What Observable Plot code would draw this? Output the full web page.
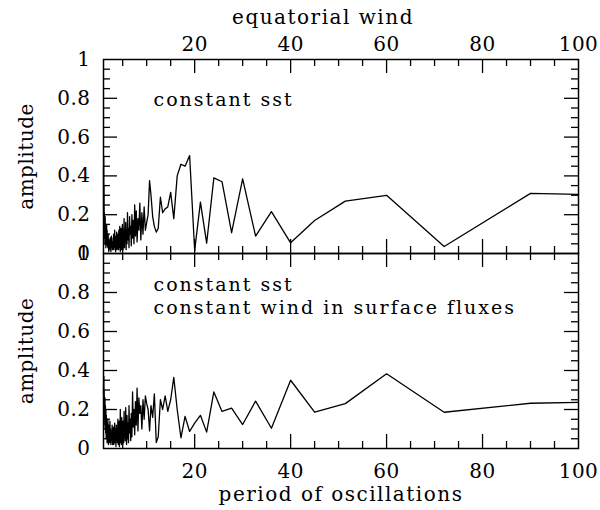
<!DOCTYPE html>
<html>
<head>
<meta charset="utf-8">
<script src="https://cdn.jsdelivr.net/npm/d3@7"></script>
<script src="https://cdn.jsdelivr.net/npm/@observablehq/plot@0.6"></script>
<style>
  html, body { margin: 0; padding: 0; background: white; }
  #chart { width: 600px; height: 510px; }
  #chart svg { display: block; overflow: visible; }
</style>
</head>
<body>
<div id="chart"></div>
<script>
// ---- data ----
const periods = [
  100, 90, 72, 60, 51.4, 45, 40, 36, 32.7, 30, 27.7, 25.7, 24, 22.5, 21.2, 20, 18.95, 18, 17.14, 16.36,
  15.65, 15.0, 14.4, 13.85, 13.33, 12.86, 12.41, 12.0, 11.6, 11.25, 10.9, 10.6, 10.3, 10.0,
  9.73, 9.47, 9.23, 9.00, 8.78, 8.57, 8.37, 8.18, 8.00, 7.83, 7.66, 7.50, 7.35, 7.20, 7.06, 6.92, 6.79, 6.67,
  6.55, 6.43, 6.32, 6.21, 6.10, 6.00, 5.90, 5.81, 5.71, 5.63, 5.54, 5.45, 5.37, 5.29, 5.22, 5.14, 5.07, 5.00,
  4.93, 4.86, 4.80, 4.74, 4.68, 4.62, 4.56, 4.50, 4.44, 4.39, 4.33, 4.29, 4.24, 4.19, 4.14, 4.09, 4.04, 4.00,
  3.91, 3.83, 3.75, 3.67, 3.60, 3.53, 3.46, 3.40, 3.33, 3.27, 3.21, 3.16, 3.10, 3.05, 3.00,
  2.90, 2.80, 2.71, 2.63, 2.55, 2.47, 2.40, 2.34, 2.27, 2.20, 2.14, 2.09, 2.03,
  1.97, 1.91, 1.86, 1.80, 1.75, 1.70, 1.65, 1.60, 1.55, 1.50, 1.45, 1.40, 1.35, 1.30, 1.26, 1.22, 1.18, 1.14,
  1.10, 1.07, 1.04, 1.02, 1.00
];
const ampConstSst = [
  0.305, 0.31, 0.036, 0.30, 0.27, 0.17, 0.055, 0.216, 0.09, 0.385, 0.107, 0.37, 0.39, 0.053, 0.265, 0.015, 0.505, 0.45, 0.46, 0.40,
  0.18, 0.315, 0.24, 0.23, 0.21, 0.29, 0.13, 0.11, 0.14, 0.19, 0.30, 0.375, 0.20, 0.16,
  0.12, 0.24, 0.10, 0.21, 0.07, 0.26, 0.12, 0.18, 0.06, 0.22, 0.09, 0.25, 0.05, 0.17, 0.08, 0.20, 0.04, 0.14,
  0.10, 0.19, 0.03, 0.13, 0.07, 0.21, 0.05, 0.12, 0.02, 0.16, 0.06, 0.11, 0.03, 0.18, 0.07, 0.12, 0.02, 0.09,
  0.15, 0.04, 0.10, 0.02, 0.13, 0.06, 0.11, 0.01, 0.08, 0.14, 0.03, 0.09, 0.05, 0.12, 0.02, 0.07, 0.10, 0.03,
  0.08, 0.02, 0.11, 0.04, 0.07, 0.01, 0.09, 0.05, 0.12, 0.03, 0.06, 0.02, 0.10, 0.04, 0.08,
  0.02, 0.06, 0.03, 0.09, 0.01, 0.05, 0.08, 0.02, 0.06, 0.03, 0.07, 0.01, 0.05,
  0.10, 0.03, 0.08, 0.04, 0.12, 0.05, 0.15, 0.06, 0.11, 0.03, 0.14, 0.07, 0.19, 0.05, 0.16, 0.09, 0.21, 0.12,
  0.35, 0.08, 0.50, 0.20, 0.45
];
const ampConstWind = [
  0.237, 0.232, 0.186, 0.383, 0.23, 0.186, 0.35, 0.104, 0.243, 0.123, 0.207, 0.19, 0.29, 0.084, 0.17, 0.13, 0.087, 0.165, 0.055, 0.20,
  0.365, 0.25, 0.19, 0.27, 0.20, 0.25, 0.06, 0.03, 0.28, 0.16, 0.22, 0.09, 0.20, 0.23,
  0.27, 0.15, 0.25, 0.10, 0.22, 0.18, 0.26, 0.09, 0.31, 0.12, 0.24, 0.07, 0.20, 0.11, 0.29, 0.06, 0.18, 0.04,
  0.15, 0.08, 0.22, 0.03, 0.13, 0.05, 0.17, 0.02, 0.10, 0.21, 0.04, 0.12, 0.06, 0.19, 0.03, 0.09, 0.14, 0.02,
  0.11, 0.05, 0.16, 0.02, 0.09, 0.13, 0.03, 0.20, 0.06, 0.10, 0.01, 0.14, 0.04, 0.08, 0.12, 0.02, 0.07, 0.15,
  0.03, 0.09, 0.05, 0.12, 0.01, 0.07, 0.10, 0.03, 0.13, 0.05, 0.08, 0.02, 0.11, 0.04, 0.09,
  0.02, 0.12, 0.04, 0.08, 0.02, 0.10, 0.05, 0.14, 0.03, 0.09, 0.06, 0.12, 0.02,
  0.08, 0.15, 0.04, 0.11, 0.03, 0.13, 0.06, 0.17, 0.05, 0.20, 0.08, 0.22, 0.10, 0.26, 0.12, 0.24, 0.15, 0.30,
  0.18, 0.37, 0.22, 0.33, 0.28
];
const xTickLabels = [20, 40, 60, 80, 100];
const xMajorTicks = [20, 40, 60, 80];
const xMinorTicks = [5, 10, 15, 25, 30, 35, 45, 50, 55, 65, 70, 75, 85, 90, 95];
const yTickLabelsTop = [0, 0.2, 0.4, 0.6, 0.8, 1];
const yTickLabelsBottom = [0, 0.2, 0.4, 0.6, 0.8, 1];
const yMajorTicks = [0.2, 0.4, 0.6, 0.8];
const yMinorTicks = [0.05, 0.1, 0.15, 0.25, 0.3, 0.35, 0.45, 0.5, 0.55, 0.65, 0.7, 0.75, 0.85, 0.9, 0.95];
const topNote = "constant sst";
const bottomNote = "constant sst\nconstant wind in surface fluxes";

const rows = periods.map((p, i) => ({p, a: ampConstSst[i], b: ampConstWind[i]}));

// ---- layout ----
const W = 600, ML = 103, MR = 22;
const innerW = W - ML - MR;
const MAJ = 14, MIN = 7;
const FONT = '"DejaVu Serif", serif';

function frameTicks(innerH) {
  const s = {stroke: "black", strokeWidth: 1.3};
  return [
    Plot.ruleX(xMajorTicks, {x: d => d, insetTop: innerH - MAJ, ...s}),
    Plot.ruleX(xMajorTicks, {x: d => d, insetBottom: innerH - MAJ, ...s}),
    Plot.ruleX(xMinorTicks, {x: d => d, insetTop: innerH - MIN, ...s}),
    Plot.ruleX(xMinorTicks, {x: d => d, insetBottom: innerH - MIN, ...s}),
    Plot.ruleY(yMajorTicks, {y: d => d, insetRight: innerW - MAJ, ...s}),
    Plot.ruleY(yMajorTicks, {y: d => d, insetLeft: innerW - MAJ, ...s}),
    Plot.ruleY(yMinorTicks, {y: d => d, insetRight: innerW - MIN, ...s}),
    Plot.ruleY(yMinorTicks, {y: d => d, insetLeft: innerW - MIN, ...s}),
    Plot.frame({stroke: "black", strokeWidth: 1.5})
  ];
}

const words = {fontFamily: FONT, fontSize: 20, fill: "black", lineAnchor: "middle"};
const notes = {fontFamily: FONT, fontSize: 19, fill: "black", lineAnchor: "middle", lineHeight: 1.2};
const fmt = d => String(d);
const axisFont = {fontSize: 20};

const topPanel = Plot.plot({
  width: W, height: 253,
  marginTop: 59, marginBottom: 0, marginLeft: ML, marginRight: MR,
  x: {domain: [1, 100]},
  y: {domain: [0, 1]},
  style: {fontFamily: FONT, fontSize: "20px", background: "none", color: "black"},
  marks: [
    Plot.line(rows, {x: "p", y: "a", stroke: "black", strokeWidth: 1.3}),
    ...frameTicks(194),
    Plot.axisX(xTickLabels, {anchor: "top", tickSize: 0, tickPadding: 9, label: null, tickFormat: fmt, ...axisFont}),
    Plot.axisY(yTickLabelsTop, {anchor: "left", tickSize: 0, tickPadding: 13, label: null, tickFormat: fmt, ...axisFont}),
    Plot.text(["equatorial wind"], {frameAnchor: "top", textAnchor: "middle", dx: -18, dy: -42, ...words}),
    Plot.text(["amplitude"], {frameAnchor: "left", textAnchor: "middle", rotate: -90, dx: -77, ...words}),
    Plot.text([topNote], {frameAnchor: "top-left", textAnchor: "start", dx: 50, dy: 39, ...notes})
  ]
});

const bottomPanel = Plot.plot({
  width: W, height: 257,
  marginTop: 0, marginBottom: 62, marginLeft: ML, marginRight: MR,
  x: {domain: [1, 100]},
  y: {domain: [0, 1]},
  style: {fontFamily: FONT, fontSize: "20px", background: "none", color: "black"},
  marks: [
    Plot.line(rows, {x: "p", y: "b", stroke: "black", strokeWidth: 1.3}),
    ...frameTicks(195),
    Plot.axisX(xTickLabels, {anchor: "bottom", tickSize: 0, tickPadding: 15, label: null, tickFormat: fmt, ...axisFont}),
    Plot.axisY(yTickLabelsBottom, {anchor: "left", tickSize: 0, tickPadding: 13, label: null, tickFormat: fmt, ...axisFont}),
    Plot.text(["period of oscillations"], {frameAnchor: "bottom", textAnchor: "middle", dy: 46, ...words}),
    Plot.text(["amplitude"], {frameAnchor: "left", textAnchor: "middle", rotate: -90, dx: -77, ...words}),
    Plot.text([bottomNote], {frameAnchor: "top-left", textAnchor: "start", dx: 50, dy: 42, ...notes})
  ]
});

const chart = document.getElementById("chart");
chart.appendChild(topPanel);
chart.appendChild(bottomPanel);

// letter spacing of the wide serif lettering in the reference
d3.select(chart).selectAll('g[aria-label="text"] text').style("letter-spacing", "1.5px");
d3.select(chart).selectAll('g[aria-label="text"] text').filter(function () {
  return this.textContent === "amplitude";
}).style("letter-spacing", "0.5px");
d3.select(chart).selectAll('g[aria-label="text"] text').filter(function () {
  return this.textContent.startsWith("constant");
}).style("letter-spacing", "2px");
d3.select(chart).selectAll('g[aria-label$="tick label"] text').style("letter-spacing", "0.5px");
</script>
</body>
</html>
